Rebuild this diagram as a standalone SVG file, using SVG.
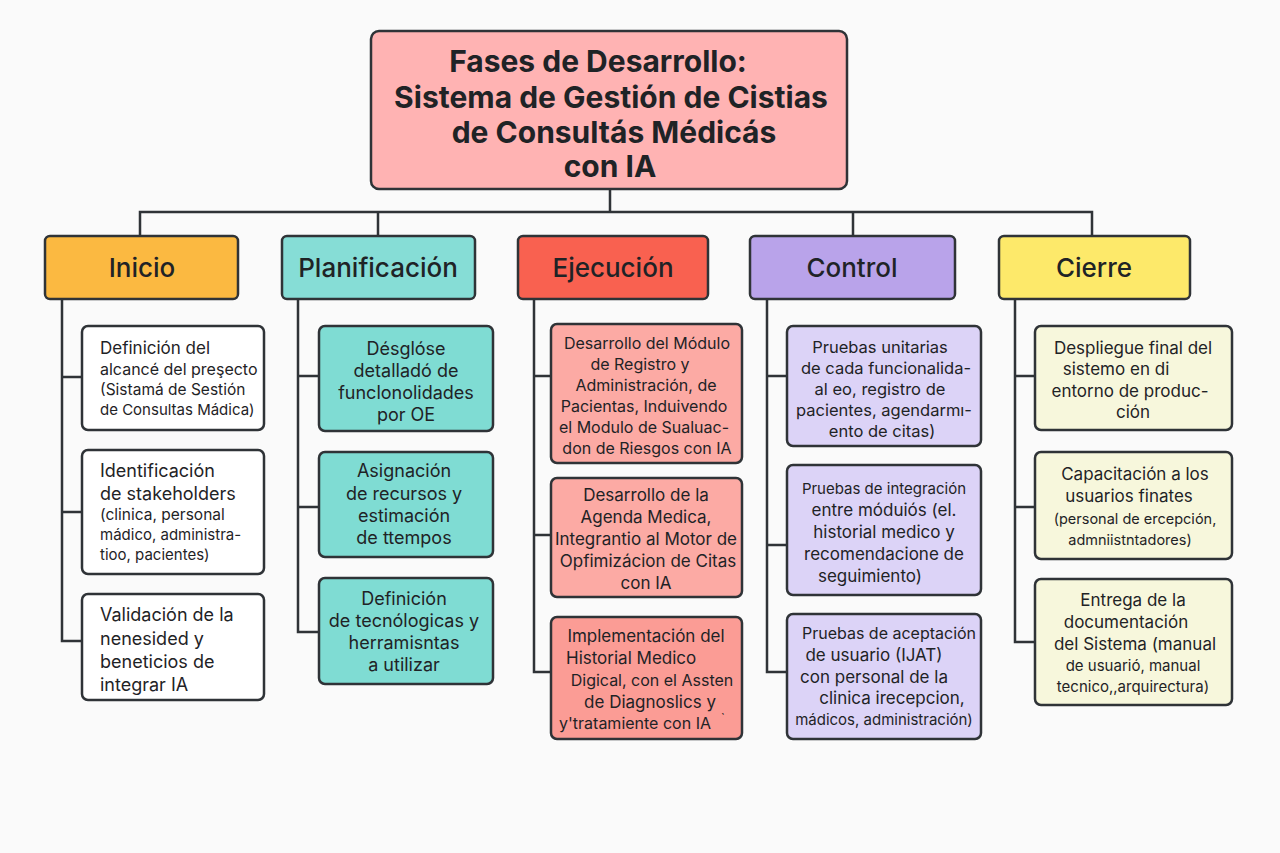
<svg xmlns="http://www.w3.org/2000/svg" width="1280" height="853" viewBox="0 0 1280 853">
<style>
.bx{stroke:#2f3337;stroke-width:2.5}
.ln{stroke:#2f3337;stroke-width:2.5;fill:none}
text{font-family:Inter,"Noto Sans","Liberation Sans",sans-serif;fill:#1f2326}
.t{font-size:30px;font-weight:700;text-anchor:middle}
.p{font-size:26px;font-weight:500;text-anchor:middle}
.c{text-anchor:middle;font-size:17px}
.l{font-size:17px}
</style>
<rect width="1280" height="853" fill="#fafafa"/>
<g id="connectors">
<path class="ln" d="M610 189V212M140 236V212H1092V236M378 212V236M853 212V236"/>
<path class="ln" d="M62 299V641H82M62 377H82M62 512H82"/>
<path class="ln" d="M298 299V632H319M298 376H319M298 507H319"/>
<path class="ln" d="M534 299V672H551M534 376H551M534 535H551"/>
<path class="ln" d="M767 299V672H787M767 376H787M767 545H787"/>
<path class="ln" d="M1015 299V642H1035M1015 376H1035M1015 507H1035"/>
</g>
<g id="title">
<rect class="bx" x="371" y="31" width="476" height="158" rx="8" fill="#ffb3b3"/>
<text class="t" x="598" y="72">Fases de Desarrollo:</text>
<text class="t" x="611" y="108">Sistema de Gestión de Cistias</text>
<text class="t" x="614" y="143">de Consultás Médicás</text>
<text class="t" x="610" y="177">con IA</text>
</g>
<g id="inicio">
<rect class="bx" x="45" y="236" width="193" height="63" rx="5" fill="#fbb941"/>
<text class="p" x="142" y="277">Inicio</text>
</g>
<g id="planificacion">
<rect class="bx" x="282" y="236" width="193" height="63" rx="5" fill="#86ddd6"/>
<text class="p" x="378" y="277">Planificación</text>
</g>
<g id="ejecucion">
<rect class="bx" x="518" y="236" width="190" height="63" rx="5" fill="#f96150"/>
<text class="p" x="613" y="277">Ejecución</text>
</g>
<g id="control">
<rect class="bx" x="750" y="236" width="205" height="63" rx="5" fill="#b9a3ea"/>
<text class="p" x="852" y="277">Control</text>
</g>
<g id="cierre">
<rect class="bx" x="999" y="236" width="191" height="63" rx="5" fill="#fde96a"/>
<text class="p" x="1094" y="277">Cierre</text>
</g>
<g id="inicio1">
<rect class="bx" x="82" y="326" width="182" height="104" rx="6" fill="#ffffff"/>
<text class="l" x="100" y="354">Definición del</text>
<text class="l" x="100" y="375" style="font-size:16px">alcancé del preşecto</text>
<text class="l" x="100" y="395" style="font-size:15.5px">(Sistamá de Sestión</text>
<text class="l" x="100" y="415" style="font-size:15px">de Consultas Mádica)</text>
</g>
<g id="inicio2">
<rect class="bx" x="82" y="450" width="182" height="124" rx="6" fill="#ffffff"/>
<text class="l" x="100" y="477" style="font-size:18px">Identificación</text>
<text class="l" x="100" y="500" style="font-size:18px">de stakeholders</text>
<text class="l" x="100" y="520" style="font-size:15.5px">(clinica, personal</text>
<text class="l" x="100" y="540" style="font-size:15px">mádico, administra-</text>
<text class="l" x="100" y="560" style="font-size:15px">tioo, pacientes)</text>
</g>
<g id="inicio3">
<rect class="bx" x="82" y="594" width="182" height="106" rx="6" fill="#ffffff"/>
<text class="l" x="100" y="621" style="font-size:18px">Validación de la</text>
<text class="l" x="100" y="645" style="font-size:18px">nenesided y</text>
<text class="l" x="100" y="668" style="font-size:18px">beneticios de</text>
<text class="l" x="100" y="691" style="font-size:18px">integrar IA</text>
</g>
<g id="plan1">
<rect class="bx" x="319" y="326" width="174" height="105" rx="6" fill="#7fdcd3"/>
<text class="c" x="406" y="355" style="font-size:18px">Désglóse</text>
<text class="c" x="406" y="377" style="font-size:18px">detalladó  de</text>
<text class="c" x="406" y="399" style="font-size:18px">funclonolidades</text>
<text class="c" x="406" y="421" style="font-size:18px">por OE</text>
</g>
<g id="plan2">
<rect class="bx" x="319" y="452" width="174" height="105" rx="6" fill="#7fdcd3"/>
<text class="c" x="404" y="477" style="font-size:18px">Asignación</text>
<text class="c" x="404" y="500" style="font-size:18px">de recursos y</text>
<text class="c" x="404" y="522" style="font-size:18px">estimación</text>
<text class="c" x="404" y="544" style="font-size:18px">de ttempos</text>
</g>
<g id="plan3">
<rect class="bx" x="319" y="578" width="174" height="106" rx="6" fill="#7fdcd3"/>
<text class="c" x="404" y="605" style="font-size:18px">Definición</text>
<text class="c" x="404" y="627" style="font-size:18px">de tecnólogicas y</text>
<text class="c" x="404" y="649" style="font-size:18px">herramisntas</text>
<text class="c" x="404" y="671" style="font-size:18px">a utilizar</text>
</g>
<g id="ejec1">
<rect class="bx" x="551" y="324" width="191" height="139" rx="6" fill="#fcaaa4"/>
<text class="c" x="647" y="349" style="font-size:16px">Desarrollo del Módulo</text>
<text class="c" x="640" y="370" style="font-size:16px">de Registro y</text>
<text class="c" x="646" y="391" style="font-size:16px">Administración, de</text>
<text class="c" x="644" y="412" style="font-size:16px">Pacientas, Induivendo</text>
<text class="c" x="644" y="433" style="font-size:16px">el Modulo de Sualuac-</text>
<text class="c" x="647" y="454" style="font-size:16px">don de Riesgos con IA</text>
</g>
<g id="ejec2">
<rect class="bx" x="551" y="478" width="191" height="119" rx="6" fill="#fcaaa4"/>
<text class="c" x="646" y="501">Desarrollo de la</text>
<text class="c" x="646" y="523">Agenda Medica,</text>
<text class="c" x="646" y="545">Integrantio al Motor de</text>
<text class="c" x="648" y="567">Opfimizácion de Citas</text>
<text class="c" x="646" y="589">con IA</text>
</g>
<g id="ejec3">
<rect class="bx" x="551" y="617" width="191" height="122" rx="6" fill="#fb9c95"/>
<text class="c" x="646" y="642">Implementación del</text>
<text class="l" x="566" y="664">Historial Medico</text>
<text class="c" x="652" y="686" style="font-size:16px">Digical, con el Assten</text>
<text class="c" x="650" y="708">de Diagnoslics y</text>
<text class="c" x="635" y="729" style="font-size:16px">y'tratamiente con IA</text>
<text class="l" x="721" y="722" style="font-size:12px">`</text>
</g>
<g id="ctrl1">
<rect class="bx" x="787" y="326" width="194" height="120" rx="6" fill="#dcd3f7"/>
<text class="c" x="880" y="353" style="font-size:16.5px">Pruebas unitarias</text>
<text class="c" x="886" y="374" style="font-size:16.5px">de cada funcionalida-</text>
<text class="c" x="880" y="395" style="font-size:16.5px">al eo, registro de</text>
<text class="c" x="884" y="416" style="font-size:16.5px">pacientes, agendarmı-</text>
<text class="c" x="882" y="437" style="font-size:16.5px">ento de citas)</text>
</g>
<g id="ctrl2">
<rect class="bx" x="787" y="465" width="194" height="130" rx="6" fill="#dcd3f7"/>
<text class="c" x="884" y="494" style="font-size:15px">Pruebas de integración</text>
<text class="c" x="884" y="516">entre móduiós (el.</text>
<text class="c" x="884" y="538">historial medico y</text>
<text class="c" x="884" y="560">recomendacione de</text>
<text class="c" x="870" y="582">seguimiento)</text>
</g>
<g id="ctrl3">
<rect class="bx" x="787" y="614" width="194" height="125" rx="6" fill="#dcd3f7"/>
<text class="c" x="889" y="639" style="font-size:16px">Pruebas de aceptación</text>
<text class="c" x="874" y="661">de usuario (IJAT)</text>
<text class="c" x="874" y="683">con personal de la</text>
<text class="c" x="892" y="704">clinica irecepcion,</text>
<text class="c" x="884" y="725" style="font-size:15px">mádicos, administración)</text>
</g>
<g id="cierre1">
<rect class="bx" x="1035" y="326" width="197" height="104" rx="6" fill="#f7f7dc"/>
<text class="c" x="1133" y="354">Despliegue final del</text>
<text class="c" x="1116" y="375">sistemo en di</text>
<text class="c" x="1130" y="397">entorno de produc-</text>
<text class="c" x="1133" y="418">ción</text>
</g>
<g id="cierre2">
<rect class="bx" x="1035" y="452" width="197" height="107" rx="6" fill="#f7f7dc"/>
<text class="c" x="1135" y="480">Capacitación a los</text>
<text class="c" x="1129" y="502">usuarios finates</text>
<text class="c" x="1135" y="524" style="font-size:14.5px">(personal de ercepción,</text>
<text class="c" x="1130" y="545" style="font-size:14.5px">admniistntadores)</text>
</g>
<g id="cierre3">
<rect class="bx" x="1035" y="579" width="197" height="126" rx="6" fill="#f7f7dc"/>
<text class="c" x="1133" y="606">Entrega de la</text>
<text class="c" x="1126" y="628">documentación</text>
<text class="c" x="1135" y="650">del Sistema (manual</text>
<text class="c" x="1133" y="671" style="font-size:15px">de usuarió, manual</text>
<text class="c" x="1133" y="692" style="font-size:15px">tecnico,,arquirectura)</text>
</g>
</svg>
